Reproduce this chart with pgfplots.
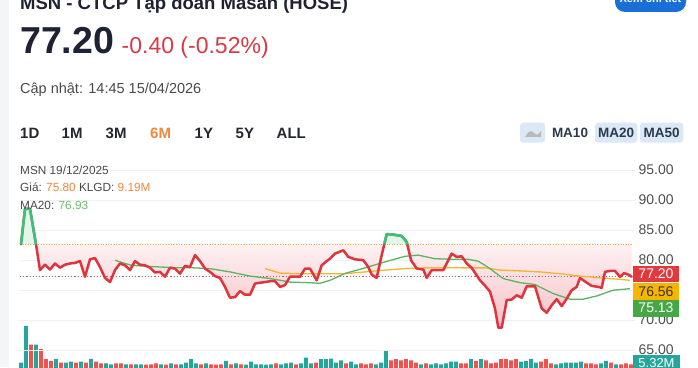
\documentclass[border=0pt]{standalone}
\usepackage{fontspec}
\setmainfont{Liberation Sans}
\usepackage{pgfplots}
\pgfplotsset{compat=1.18}
\definecolor{navy}{HTML}{1E2233}
\definecolor{chgred}{HTML}{D93A46}
\definecolor{txtgray}{HTML}{4A4A4A}
\definecolor{tabdark}{HTML}{23272F}
\definecolor{tabor}{HTML}{F0883E}
\definecolor{btnblue}{HTML}{DBE8F5}
\definecolor{btntext}{HTML}{2C3A4F}
\definecolor{xemblue}{HTML}{1A6ED8}
\definecolor{gridc}{HTML}{EFEFEF}
\definecolor{lblgray}{HTML}{4F4F4F}
\definecolor{pricered}{HTML}{E0343D}
\definecolor{pricegreen}{HTML}{35C47A}
\definecolor{maG}{HTML}{5DB35F}
\definecolor{maO}{HTML}{F3B52C}
\definecolor{dotO}{HTML}{E6A93A}
\definecolor{dotR}{HTML}{C0566E}
\definecolor{pinktop}{HTML}{FDF1F2}
\definecolor{pinkbot}{HTML}{F6C0C6}
\definecolor{greenfill}{HTML}{E4F6EA}
\definecolor{boxR}{HTML}{E0393E}
\definecolor{boxO}{HTML}{F7B500}
\definecolor{boxG}{HTML}{45A845}
\definecolor{volup}{HTML}{26A69A}
\definecolor{voldn}{HTML}{EF5350}
\definecolor{sidegray}{HTML}{F4F5F7}
\definecolor{infogreen}{HTML}{6ABF69}
\begin{document}
\begin{tikzpicture}[x=1pt,y=1pt]
\useasboundingbox (0,0) rectangle (698,367);
\clip (0,0) rectangle (698,367);
\fill[white] (0,0) rectangle (698,367);
\fill[sidegray] (0,0) rectangle (9,367);

% ---------- volume ----------
\begin{axis}[at={(20,-12)}, anchor=south west, scale only axis,
  width=615pt, height=52pt, xmin=20, xmax=635, ymin=0, ymax=24.76,
  hide axis, clip=false]
\addplot[ybar, bar shift=0pt, bar width=3.6pt, fill=volup, draw=none] coordinates {
(21,3.3) (26,20.8) (36,11.8) (56,4.9) (66,3.3) (71,3.8) (81,3.8) (91,4.9) (106,2.9) (111,2.5)
(126,2.5) (136,2.5) (141,2.5) (161,2.5) (171,2.9) (181,2.5) (186,3.3) (191,4.9) (196,2.9) (206,2.9)
(226,4.1) (236,2.9) (246,2.3) (251,3.8) (256,2.5) (261,2.5) (266,2.3) (271,2.5) (281,2.5) (286,2.9)
(291,3.3) (301,2.9) (306,5.7) (311,2.9) (321,4.9) (326,4.9) (331,5.2) (336,3.3) (341,4.4) (351,3.8)
(356,2.5) (376,2.5) (381,3.3) (386,8.9) (421,2.5) (431,2.5) (436,2.9) (441,2.5) (446,2.9) (451,3.8)
(456,3.8) (471,4.9) (481,4.9) (521,3.8) (526,4.1) (531,4.9) (536,3.3) (556,2.5) (561,2.9) (566,3.3)
(571,3.3) (576,3.3) (581,3.8) (601,2.9) (606,4.1) (616,2.5)};
\addplot[ybar, bar shift=0pt, bar width=3.6pt, fill=voldn, draw=none] coordinates {
(31,11.8) (41,9.7) (46,4.9) (51,4.1) (61,3.3) (76,3.3) (86,3.3) (96,3.8) (101,2.9) (116,2.9)
(121,2.9) (131,2.5) (146,2.3) (151,2.5) (156,2.9) (166,2.3) (176,2.5) (201,2.5) (211,2.5) (216,2.3)
(221,2.5) (231,2.5) (241,2.5) (276,2.9) (296,2.5) (316,3.3) (346,2.9) (361,2.9) (366,2.5) (371,2.9)
(391,4.4) (396,4.9) (401,4.4) (406,4.9) (411,4.4) (416,3.3) (426,2.9) (461,2.9) (466,2.9) (476,4.1)
(486,4.4) (491,2.9) (496,3.3) (501,4.9) (506,4.9) (511,4.4) (516,4.9) (541,3.8) (546,4.9) (551,2.9)
(586,2.9) (591,2.9) (596,2.5) (611,3.3) (621,2.5) (626,2.9) (631,2.5)};
\end{axis}

% ---------- price ----------
\begin{axis}[at={(20,28.5)}, anchor=south west, scale only axis,
  width=615pt, height=180pt, xmin=20, xmax=635, ymin=65, ymax=95,
  axis line style={draw=none}, xtick=\empty, ytick={65,70,75,80,85,90,95},
  yticklabels={65.00,70.00,,80.00,85.00,90.00,95.00},
  ymajorgrids, grid style={gridc, line width=0.8pt}, major tick length=0pt,
  yticklabel pos=right,
  yticklabel style={overlay, font=\fontsize{14}{14}\selectfont, text=lblgray},
  clip=false]
% pink fill below baseline 82.6
\addplot[draw=none, top color=pinktop, bottom color=pinkbot] coordinates {
(21,82.6) (36,82.6) (40,78.3) (45,79.2) (50,78.4) (55,79.4) (60,78.7) (65,79.2) (70,79.4) (75,79.5)
(80,79.8) (85,77.2) (90,80.1) (95,80.3) (100,78.8) (105,77.0) (110,76.3) (115,78.3) (120,79.4) (125,79.1)
(130,78.3) (135,79.8) (140,79.2) (145,79.1) (150,78.7) (155,77.9) (160,78.0) (165,77.2) (170,78.7) (175,78.55)
(180,77.7) (185,79.0) (190,78.8) (195,80.8) (200,79.8) (205,78.55) (210,78.0) (215,77.3) (220,77.0) (225,75.5)
(230,73.7) (235,73.8) (240,74.8) (245,74.2) (250,74.2) (255,76.05) (260,76.2) (265,76.3) (270,76.45) (275,76.45)
(280,75.5) (285,75.8) (290,77.2) (295,77.2) (300,77.2) (305,78.55) (310,78.55) (316.7,76.6) (321.7,79.1) (326.7,79.8)
(330,80.2) (335,81.05) (343.3,81.6) (348.3,80.5) (355,80.1) (363.3,79.95) (368.3,78.8) (371.7,77.55) (376.7,77.0) (381.7,80.8)
(384.3,82.6) (407.3,82.6) (411,79.95) (416.7,78.55) (423.3,78.4) (426.7,77.0) (431.7,78.3) (443.3,78.3) (451.7,81.05) (456.7,80.5)
(461.7,80.6) (466.7,79.4) (471.7,78.67) (480,76.6) (485,75.7) (490,74.7) (495,71.9) (498.3,68.7) (501.7,68.7) (506.7,73.3)
(511.7,73.4) (516.7,74.1) (521.7,73.7) (526.7,75.6) (535,75.6) (541.7,71.9) (546.7,71.2) (551.7,72.45) (556.7,73.45) (561.7,72.3)
(566.7,73.55) (571.7,74.95) (576.7,75.5) (580,77.0) (586.7,76.2) (591.7,75.67) (598.3,75.5) (601.7,75.33) (605,78.0) (610,78.17)
(615,78.17) (620,77.17) (624,77.8) (628.3,77.55) (631.7,77.2) (631.7,82.6)};
% light green fill above baseline
\addplot[draw=none, fill=greenfill] coordinates {(21,82.6) (25,88.5) (30,88.5) (36,82.6)};
\addplot[draw=none, fill=greenfill] coordinates {(384.3,82.6) (386.7,84.3) (391.7,84.25) (401.7,84.0) (406.7,83.0) (407.3,82.6)};
% reference lines
\addplot[dotO, line width=0.8pt, dash pattern=on 1pt off 1.6pt] coordinates {(20,82.6) (632,82.6)};
\addplot[dotR, line width=1pt, dash pattern=on 1.2pt off 2pt] coordinates {(20,77.2) (632,77.2)};
% MA50
\addplot[maO, line width=1.3pt] coordinates {
(265,78.55) (280,77.8) (300,77.7) (330,77.7) (345,77.7) (365,78.0) (385,78.3) (405,78.55) (425,78.67) (445,78.7)
(465,78.67) (485,78.67) (500,78.3) (520,78.17) (540,78.0) (560,77.7) (580,77.3) (600,77.0) (617,76.8) (630,76.6)};
% MA20
\addplot[maG, line width=1.3pt] coordinates {
(115,79.95) (125,79.4) (131.7,79.1) (150,78.9) (175,78.7) (190,78.7) (210,78.55) (230,78.0) (250,77.3) (270,76.9)
(290,76.3) (310,76.2) (320,76.1) (330,76.6) (345,77.75) (365,78.67) (385,79.67) (405,80.6) (418,80.8) (435,80.2)
(452,80.1) (468,80.1) (478,79.8) (485,79.1) (490,78.55) (503,76.9) (520,76.2) (535,75.9) (553,74.4) (570,73.45)
(583,73.45) (597,74.0) (613,74.95) (630,75.2)};
% price
\addplot[pricered, line width=2.5pt, line join=round, line cap=round] coordinates {
(21,82.6) (25,88.5) (30,88.5) (36,82.6) (40,78.3) (45,79.2) (50,78.4) (55,79.4) (60,78.7) (65,79.2) (70,79.4) (75,79.5)
(80,79.8) (85,77.2) (90,80.1) (95,80.3) (100,78.8) (105,77.0) (110,76.3) (115,78.3) (120,79.4) (125,79.1)
(130,78.3) (135,79.8) (140,79.2) (145,79.1) (150,78.7) (155,77.9) (160,78.0) (165,77.2) (170,78.7) (175,78.55)
(180,77.7) (185,79.0) (190,78.8) (195,80.8) (200,79.8) (205,78.55) (210,78.0) (215,77.3) (220,77.0) (225,75.5)
(230,73.7) (235,73.8) (240,74.8) (245,74.2) (250,74.2) (255,76.05) (260,76.2) (265,76.3) (270,76.45) (275,76.45)
(280,75.5) (285,75.8) (290,77.2) (295,77.2) (300,77.2) (305,78.55) (310,78.55) (316.7,76.6) (321.7,79.1) (326.7,79.8)
(330,80.2) (335,81.05) (343.3,81.6) (348.3,80.5) (355,80.1) (363.3,79.95) (368.3,78.8) (371.7,77.55) (376.7,77.0) (381.7,80.8)
(384.3,82.6) (386.7,84.3) (391.7,84.25) (401.7,84.0) (406.7,83.0) (407.3,82.6) (411,79.95) (416.7,78.55) (423.3,78.4) (426.7,77.0) (431.7,78.3) (443.3,78.3) (451.7,81.05) (456.7,80.5)
(461.7,80.6) (466.7,79.4) (471.7,78.67) (480,76.6) (485,75.7) (490,74.7) (495,71.9) (498.3,68.7) (501.7,68.7) (506.7,73.3)
(511.7,73.4) (516.7,74.1) (521.7,73.7) (526.7,75.6) (535,75.6) (541.7,71.9) (546.7,71.2) (551.7,72.45) (556.7,73.45) (561.7,72.3)
(566.7,73.55) (571.7,74.95) (576.7,75.5) (580,77.0) (586.7,76.2) (591.7,75.67) (598.3,75.5) (601.7,75.33) (605,78.0) (610,78.17)
(615,78.17) (620,77.17) (624,77.8) (628.3,77.55) (631.7,77.2)};
\addplot[pricegreen, line width=2.5pt, line join=round] coordinates {(21,82.6) (25,88.5) (30,88.5) (36,82.6)};
\addplot[pricegreen, line width=2.5pt, line join=round] coordinates {(384.3,82.6) (386.7,84.3) (391.7,84.25) (401.7,84.0) (406.7,83.0) (407.3,82.6)};
\end{axis}

% ---------- right price boxes ----------
\fill[boxR] (633,85) rectangle (679,101);
\node[text=white, font=\fontsize{14}{14}\selectfont] at (656,93) {77.20};
\fill[boxO] (633,67.5) rectangle (679,84);
\node[text=black!80, font=\fontsize{14}{14}\selectfont] at (656,75.7) {76.56};
\fill[boxG] (633,50.5) rectangle (679,67.5);
\node[text=white, font=\fontsize{14}{14}\selectfont] at (656,59) {75.13};
\fill[volup] (633,-3) rectangle (680,12);
\node[text=white, font=\fontsize{13}{13}\selectfont] at (656.5,4) {5.32M};

% ---------- header ----------
\node[anchor=base west, inner sep=0, text=navy] at (20,357.5) {\fontsize{18.5}{20}\selectfont\bfseries MSN - CTCP Tập đoàn Masan (HOSE)};
\fill[xemblue, rounded corners=10pt] (615,355) rectangle (686,385);
\node[anchor=base, inner sep=0, text=white] at (650.5,364.5) {\fontsize{11}{12}\selectfont\bfseries Xem chi tiết};
\node[anchor=base west, inner sep=0, text=navy] at (20,313.7) {\fontsize{37.5}{40}\selectfont\bfseries 77.20};
\node[anchor=base west, inner sep=0, text=chgred] at (121.5,313.7) {\fontsize{23}{25}\selectfont -0.40 (-0.52\%)};
\node[anchor=base west, inner sep=0, text=txtgray] at (20,273) {\fontsize{14.5}{16}\selectfont Cập nhật: 14:45 15/04/2026};

% tabs
\begin{scope}[every node/.style={anchor=base west, inner sep=0, text=tabdark, font=\fontsize{15}{16}\selectfont\bfseries}]
\node at (20,228.7) {1D};
\node at (61.5,228.7) {1M};
\node at (105.5,228.7) {3M};
\node[text=tabor] at (150,228.7) {6M};
\node at (194.5,228.7) {1Y};
\node at (235.5,228.7) {5Y};
\node at (276.5,228.7) {ALL};
\end{scope}

% right buttons
\fill[btnblue, rounded corners=3pt] (520,224.3) rectangle (545,244.3);
\fill[gray!55] (525,230) .. controls (529,237) and (531,237) .. (534,234) .. controls (537,231) and (539,233) .. (541,236) -- (541,230) -- cycle;
\fill[btnblue, rounded corners=3pt] (595,224.3) rectangle (637.3,244.3);
\fill[btnblue, rounded corners=3pt] (640,224.3) rectangle (683.3,244.3);
\begin{scope}[every node/.style={anchor=base, inner sep=0, text=btntext, font=\fontsize{13.5}{14}\selectfont\bfseries}]
\node at (570,229.7) {MA10};
\node at (616.2,229.7) {MA20};
\node at (661.7,229.7) {MA50};
\end{scope}

% info
\begin{scope}[every node/.style={anchor=base west, inner sep=0, text=txtgray, font=\fontsize{11.8}{13}\selectfont}]
\node at (20,192) {MSN 19/12/2025};
\node at (20,175.3) {Giá: \textcolor{tabor}{75.80} KLGD: \textcolor{tabor}{9.19M}};
\node at (20,157.7) {MA20: \textcolor{infogreen}{76.93}};
\end{scope}
\end{tikzpicture}
\end{document}
